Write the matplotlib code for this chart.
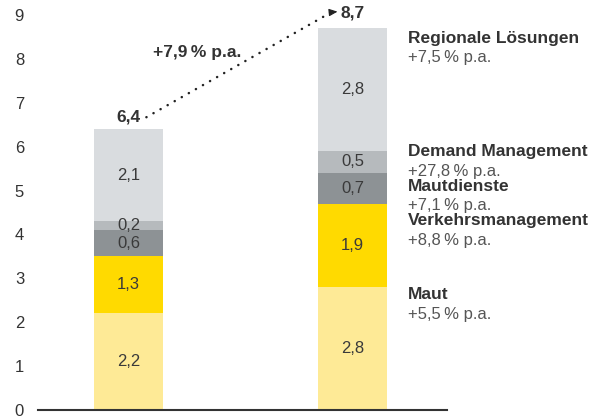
import numpy as np
import matplotlib.pyplot as plt

plt.rcParams['font.family'] = ['Liberation Sans', 'DejaVu Sans']

# data (Mrd. EUR), bottom to top
segments = ["Maut", "Verkehrsmanagement", "Mautdienste", "Demand Management", "Regionale Lösungen"]
growth = ["+5,5\u2009% p.a.", "+8,8\u2009% p.a.", "+7,1\u2009% p.a.", "+27,8\u2009% p.a.", "+7,5\u2009% p.a."]
values_a = [2.2, 1.3, 0.6, 0.2, 2.1]
values_b = [2.8, 1.9, 0.7, 0.5, 2.8]
totals = [6.4, 8.7]
total_growth = "+7,9\u2009% p.a."
colors = ["#FEEA96", "#FFDA00", "#8D9295", "#B6BABD", "#D9DCDF"]
label_y = [2.62, 4.31, 5.10, 5.88, 8.47]   # y of legend-style labels right of the bars

fig = plt.figure(figsize=(5.96, 4.16), dpi=100)
ax = fig.add_axes([38/596, 6/416, 409/596, 410/416])

x = np.array([0, 1])
width = 0.308
bottoms = np.zeros(2)
for i in range(len(segments)):
    vals = np.array([values_a[i], values_b[i]])
    ax.bar(x, vals, width, bottom=bottoms, color=colors[i], linewidth=0)
    for j in range(2):
        ax.text(x[j], bottoms[j] + vals[j]/2, f"{vals[j]:.1f}".replace(".", ","),
                ha="center", va="center", fontsize=12, color="#3a3a3a")
    bottoms += vals

# labels on the right
for i in range(len(segments)):
    ax.text(1.248, label_y[i], segments[i], fontsize=12.5, fontweight="bold",
            color="#333333", va="center", ha="left", clip_on=False)
    ax.text(1.248, label_y[i] - 0.44, growth[i], fontsize=12,
            color="#555555", va="center", ha="left", clip_on=False)

# totals and growth arrow
ax.text(0.0, totals[0] + 0.27, f"{totals[0]:.1f}".replace(".", ","), fontsize=12.5,
        fontweight="bold", color="#333333", ha="center", va="center")
ax.text(1.0, totals[1] + 0.34, f"{totals[1]:.1f}".replace(".", ","), fontsize=12.5,
        fontweight="bold", color="#333333", ha="center", va="center")
x0, y0 = 0.08, totals[0] + 0.27
x1, y1 = 0.905, totals[1] + 0.36
ax.plot([x0, x1], [y0, y1], color="#222222", lw=1.8, linestyle=(0, (0.05, 3.2)),
        dash_capstyle="round")
ax.annotate("", xy=(x1 + 0.028, y1 + 0.015), xytext=(x1, y1),
            arrowprops=dict(arrowstyle="-|>,head_length=0.5,head_width=0.22",
                            color="#222222", lw=0.8, shrinkA=0, shrinkB=0))
ax.text(0.306, 8.15, total_growth, fontsize=12.5, fontweight="bold",
        color="#333333", ha="center", va="center")

ax.set_xlim(-0.404, 1.422)
ax.set_ylim(0, 9.34)
ax.set_yticks(range(0, 10))
ax.set_xticks([])
ax.tick_params(axis="y", length=0, pad=10, labelsize=12, labelcolor="#333333")
for s in ["left", "right", "top"]:
    ax.spines[s].set_visible(False)
ax.spines["bottom"].set_color("#333333")
ax.spines["bottom"].set_linewidth(1.5)

fig.savefig("out.png", dpi=100)
